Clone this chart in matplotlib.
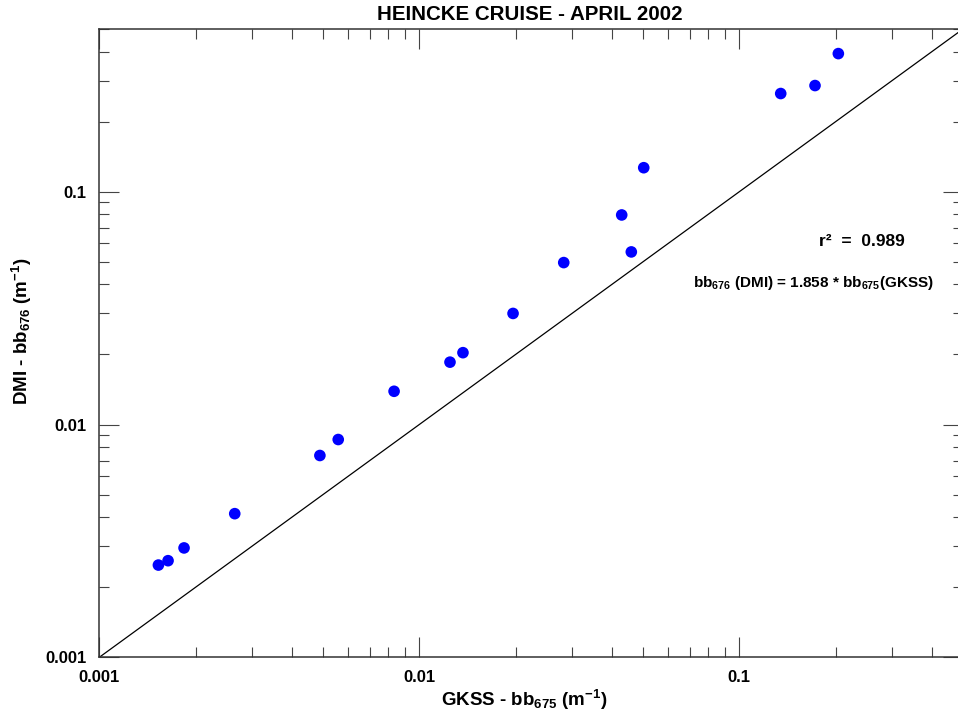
import matplotlib
matplotlib.use("Agg")
import matplotlib.pyplot as plt
from matplotlib.ticker import LogLocator, FixedLocator, FuncFormatter

# Font settings: Arial-like bold text everywhere
plt.rcParams['font.family'] = ['Liberation Sans', 'DejaVu Sans']
plt.rcParams['font.weight'] = 'bold'
plt.rcParams['mathtext.fontset'] = 'custom'
plt.rcParams['mathtext.rm'] = 'Liberation Sans:bold'
plt.rcParams['mathtext.it'] = 'Liberation Sans:bold'
plt.rcParams['mathtext.bf'] = 'Liberation Sans:bold'

# Data
gkss_bb675 = [0.00153, 0.00164, 0.00184, 0.00265, 0.00489, 0.00558, 0.00834,
              0.01247, 0.01369, 0.01963, 0.02827, 0.04290, 0.04597, 0.05027,
              0.1347, 0.1724, 0.2039]
dmi_bb676 = [0.00249, 0.00260, 0.00295, 0.00414, 0.00736, 0.00862, 0.01389,
             0.01853, 0.02035, 0.03000, 0.04961, 0.07946, 0.05513, 0.1268,
             0.2641, 0.2858, 0.3920]
one_to_one = [0.001, 0.5]
major_ticks = [0.001, 0.01, 0.1]
tick_labels = ['0.001', '0.01', '0.1']

W, H = 958, 715
fig = plt.figure(figsize=(W / 100, H / 100), dpi=100)
# right spine sits just outside the picture in the original
ax = fig.add_axes([99.3 / W, (H - 657.3) / H, (963 - 99.3) / W, (657.3 - 29) / H])

ax.set_xscale('log')
ax.set_yscale('log')
ax.set_xlim(0.001, 0.5)
ax.set_ylim(0.001, 0.5)

ax.plot(one_to_one, one_to_one, color='black', lw=0.9)
ax.scatter(gkss_bb675, dmi_bb676, s=70, color='#0000ff', edgecolors='none', zorder=3)

for axis in (ax.xaxis, ax.yaxis):
    axis.set_major_locator(FixedLocator(major_ticks))
    axis.set_major_formatter(FuncFormatter(lambda v, p: tick_labels[major_ticks.index(v)] if v in major_ticks else ''))
    axis.set_minor_locator(LogLocator(base=10, subs=range(2, 10)))
    axis.set_minor_formatter(FuncFormatter(lambda v, p: ''))

ax.tick_params(which='both', direction='in', top=True, right=True,
               colors='#444444', labelcolor='black', width=0.8)
ax.tick_params(which='major', length=14.5, labelsize=12, pad=9)
ax.tick_params(which='minor', length=7)
for lab in ax.get_xticklabels() + ax.get_yticklabels():
    lab.set_fontweight('bold')

for sp in ax.spines.values():
    sp.set_color('#333333')
    sp.set_linewidth(1.1)

# axis labels placed as figure text to match the reference positions
fig.text(524 / W, 1 - 700 / H, 'GKSS - bb$_{675}$ (m$^{-1}$)', ha='center', va='center',
         fontsize=13.5, fontweight='bold')
fig.text(22 / W, 1 - 331 / H, 'DMI - bb$_{676}$ (m$^{-1}$)', ha='center', va='center',
         rotation=90, fontsize=13.5, fontweight='bold')

fig.text(529.5 / W, 1 - 15 / H, 'HEINCKE CRUISE - APRIL 2002', ha='center', va='center',
         fontsize=14.8, fontweight='bold')

fig.text(861.5 / W, 1 - 242 / H, 'r²  =  0.989', ha='center', va='center',
         fontsize=12.5, fontweight='bold')
fig.text(813.5 / W, 1 - 283 / H, 'bb$_{676}$ (DMI) = 1.858 * bb$_{675}$(GKSS)',
         ha='center', va='center', fontsize=11, fontweight='bold')

fig.savefig('out.png', dpi=100)
